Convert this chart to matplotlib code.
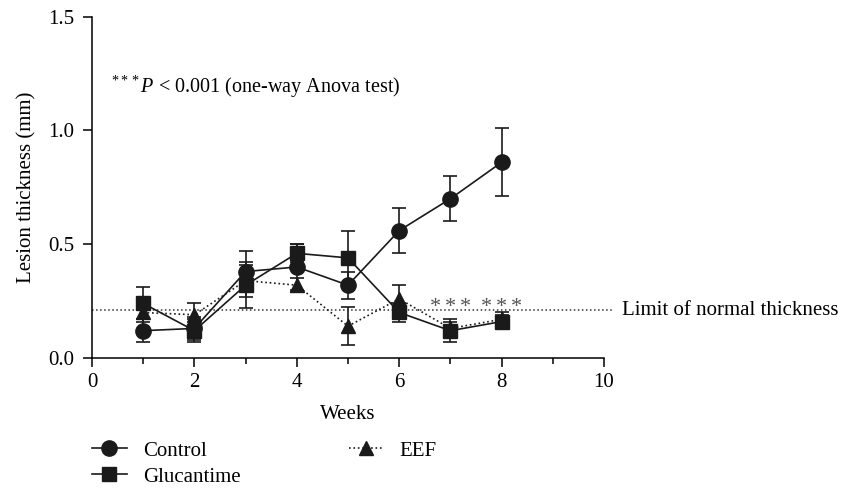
import numpy as np
import matplotlib.pyplot as plt
from matplotlib.ticker import MultipleLocator
from matplotlib.lines import Line2D

plt.rcParams['font.family'] = ['Liberation Serif', 'DejaVu Serif']
plt.rcParams['mathtext.fontset'] = 'custom'
plt.rcParams['mathtext.rm'] = 'Liberation Serif'
plt.rcParams['mathtext.it'] = 'Liberation Serif:italic'

weeks = [1, 2, 3, 4, 5, 6, 7, 8]

control = [0.12, 0.13, 0.38, 0.40, 0.32, 0.56, 0.70, 0.86]
control_err = [0.05, 0.05, 0.09, 0.10, 0.06, 0.10, 0.10, 0.15]

glucantime = [0.24, 0.12, 0.32, 0.46, 0.44, 0.20, 0.12, 0.16]
glucantime_err = [0.07, 0.05, 0.10, 0.04, 0.12, 0.04, 0.05, 0.03]

eef = [0.20, 0.19, 0.34, 0.32, 0.14, 0.26, 0.13, 0.17]
eef_err = [0.04, 0.05, 0.07, 0.03, 0.085, 0.06, 0.03, 0.03]

limit_normal = 0.21
signif_weeks = [7, 8]
signif_y = 0.25

fig = plt.figure(figsize=(8.41, 4.88), dpi=100)
ax = fig.add_axes([0.1094, 0.2664, 0.6088, 0.6994])

col = '#1a1a1a'
common = dict(color=col, ecolor=col, elinewidth=1.2, capsize=5, capthick=1.2,
              markeredgecolor=col, markerfacecolor=col)

ax.errorbar(weeks, glucantime, yerr=glucantime_err, fmt='-s', ms=10, lw=1.2, **common)
ax.errorbar(weeks, eef, yerr=eef_err, fmt='^', ls=':', ms=10, lw=1.2, **common)
ax.errorbar(weeks, control, yerr=control_err, fmt='-o', ms=11, lw=1.2, **common)

# limit of normal thickness
ax.plot([0, 10.15], [limit_normal, limit_normal], ls=':', color='#333333',
        lw=1.1, clip_on=False)
ax.text(10.35, limit_normal, 'Limit of normal thickness', fontsize=15,
        va='center', ha='left', clip_on=False)

# significance stars, three per week
for w in signif_weeks:
    for dx in (-0.3, 0, 0.3):
        ax.text(w + dx, signif_y - 0.05, '*', fontsize=16, color='#555555',
                ha='center', va='baseline')

ax.text(0.38, 1.19, r'$^{***}$' + r'$\mathit{P}$ < 0.001 (one-way Anova test)',
        fontsize=14.5, va='center')

ax.set_xlim(0, 10)
ax.set_ylim(0, 1.5)
ax.xaxis.set_major_locator(MultipleLocator(2))
ax.xaxis.set_minor_locator(MultipleLocator(1))
ax.yaxis.set_major_locator(MultipleLocator(0.5))
ax.yaxis.set_major_formatter(plt.FormatStrFormatter('%.1f'))
ax.spines['top'].set_visible(False)
ax.spines['right'].set_visible(False)
for s in ['left', 'bottom']:
    ax.spines[s].set_linewidth(1.1)
ax.tick_params(which='major', direction='out', length=6.5, width=1.1,
               labelsize=15)
ax.tick_params(axis='y', which='major', pad=6)
ax.tick_params(axis='x', which='major', pad=4)
ax.tick_params(which='minor', direction='out', length=4.5, width=1.1)
ax.set_xlabel('Weeks', fontsize=15, labelpad=10)
ax.set_ylabel('Lesion thickness (mm)', fontsize=15, labelpad=8.5)

handles = [
    Line2D([], [], color=col, lw=1.2, marker='o', ms=11),
    Line2D([], [], color=col, lw=1.2, marker='s', ms=10),
    Line2D([], [], color=col, lw=1.2, ls=':', marker='^', ms=10),
]
labels = ['Control', 'Glucantime', 'EEF']
fig.legend(handles, labels, loc='upper left', bbox_to_anchor=(0.109, 0.096),
           ncol=2, frameon=False, fontsize=15, borderpad=0, borderaxespad=0,
           handlelength=1.7, handletextpad=0.75, columnspacing=5.2,
           labelspacing=0.3)

fig.savefig('out.png', dpi=100)
